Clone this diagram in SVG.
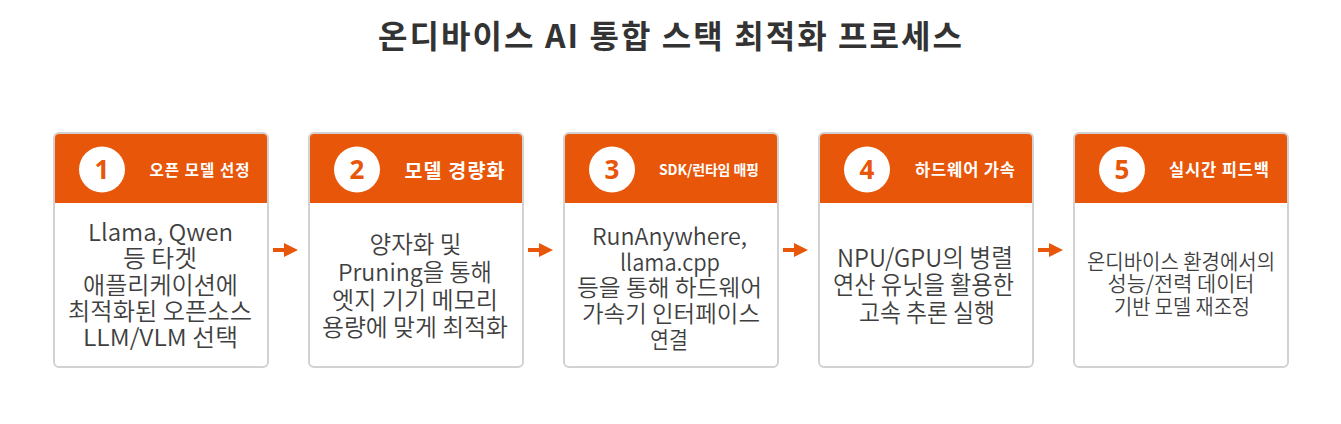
<svg xmlns="http://www.w3.org/2000/svg" width="1341" height="424" viewBox="0 0 1341 424">
<style>
.card{fill:#fff;stroke:#d2d2d2;stroke-width:2}
.hdr{fill:#E8560A}
.num{fill:#fff}
.numt{font-family:"Open Sans","Noto Sans CJK KR",sans-serif;font-weight:700;font-size:26px;fill:#E8560A;text-anchor:middle;dominant-baseline:central}
.ht{font-family:"Noto Sans CJK KR",sans-serif;font-weight:700;fill:#fff;text-anchor:middle;dominant-baseline:central}
.bt{font-family:"Noto Sans CJK KR",sans-serif;font-weight:350;fill:#3f3f3f;text-anchor:middle;dominant-baseline:central}
.c1{font-size:23.5px}.c2{font-size:23.5px}.c3{font-size:23px}.c4{font-size:24.5px}.c5{font-size:21px}
.title{font-family:"Noto Sans CJK KR",sans-serif;font-weight:700;font-size:32px;fill:#333;text-anchor:middle;dominant-baseline:central}
.arr{fill:#E8560A}
</style>
<defs>
<path id="arrow" d="M0,-2 L11,-2 L11,-7 L25,0 L11,7 L11,2 L0,2 Z"/>
</defs>
<rect width="1341" height="424" fill="#fff"/>
<text class="title" x="670" y="34" textLength="584">온디바이스 AI 통합 스택 최적화 프로세스</text>

<g id="node1">
<rect class="card" x="54" y="133" width="214" height="234" rx="5"/>
<path class="hdr" d="M55,203 V138 Q55,134 59,134 H263 Q267,134 267,138 V203 Z"/>
<circle class="num" cx="102" cy="169.5" r="23"/>
<text class="numt" x="102" y="169">1</text>
<text class="ht" x="199.5" y="169" font-size="15.5" textLength="100">오픈 모델 선정</text>
<text class="bt c1" x="160.5" y="231" textLength="145" lengthAdjust="spacingAndGlyphs">Llama, Qwen</text>
<text class="bt c1" x="160" y="257" textLength="74" lengthAdjust="spacingAndGlyphs">등 타겟</text>
<text class="bt c1" x="160.5" y="283.5" textLength="155" lengthAdjust="spacingAndGlyphs">애플리케이션에</text>
<text class="bt c1" x="160" y="310" textLength="184" lengthAdjust="spacingAndGlyphs">최적화된 오픈소스</text>
<text class="bt c1" x="160.5" y="336" textLength="155" lengthAdjust="spacingAndGlyphs">LLM/VLM 선택</text>
</g>

<g id="node2">
<rect class="card" x="309" y="133" width="214" height="234" rx="5"/>
<path class="hdr" d="M310,203 V138 Q310,134 314,134 H518 Q522,134 522,138 V203 Z"/>
<circle class="num" cx="357" cy="169.5" r="23"/>
<text class="numt" x="357" y="169">2</text>
<text class="ht" x="454.5" y="169" font-size="19.5" textLength="100">모델 경량화</text>
<text class="bt c2" x="415.5" y="243" textLength="92" lengthAdjust="spacingAndGlyphs">양자화 및</text>
<text class="bt c2" x="415" y="270.7" textLength="154" lengthAdjust="spacingAndGlyphs">Pruning을 통해</text>
<text class="bt c2" x="415" y="298.5" textLength="166" lengthAdjust="spacingAndGlyphs">엣지 기기 메모리</text>
<text class="bt c2" x="415" y="326" textLength="186" lengthAdjust="spacingAndGlyphs">용량에 맞게 최적화</text>
</g>

<g id="node3">
<rect class="card" x="564" y="133" width="214" height="234" rx="5"/>
<path class="hdr" d="M565,203 V138 Q565,134 569,134 H773 Q777,134 777,138 V203 Z"/>
<circle class="num" cx="612" cy="169.5" r="23"/>
<text class="numt" x="612" y="169">3</text>
<text class="ht" x="709" y="169" font-size="14" textLength="100">SDK/런타임 매핑</text>
<text class="bt c3" x="669.5" y="234.7" textLength="155" lengthAdjust="spacingAndGlyphs">RunAnywhere,</text>
<text class="bt c3" x="670" y="260.5" textLength="100" lengthAdjust="spacingAndGlyphs">llama.cpp</text>
<text class="bt c3" x="669.5" y="286.3" textLength="185" lengthAdjust="spacingAndGlyphs">등을 통해 하드웨어</text>
<text class="bt c3" x="671" y="312" textLength="178" lengthAdjust="spacingAndGlyphs">가속기 인터페이스</text>
<text class="bt c3" x="669" y="338" textLength="38" lengthAdjust="spacingAndGlyphs">연결</text>
</g>

<g id="node4">
<rect class="card" x="819" y="133" width="214" height="234" rx="5"/>
<path class="hdr" d="M820,203 V138 Q820,134 824,134 H1028 Q1032,134 1032,138 V203 Z"/>
<circle class="num" cx="867" cy="169.5" r="23"/>
<text class="numt" x="867" y="169">4</text>
<text class="ht" x="965" y="169" font-size="16.5" textLength="100">하드웨어 가속</text>
<text class="bt c4" x="925" y="256" textLength="176" lengthAdjust="spacingAndGlyphs">NPU/GPU의 병렬</text>
<text class="bt c4" x="923.5" y="283.5" textLength="181" lengthAdjust="spacingAndGlyphs">연산 유닛을 활용한</text>
<text class="bt c4" x="927" y="311" textLength="136" lengthAdjust="spacingAndGlyphs">고속 추론 실행</text>
</g>

<g id="node5">
<rect class="card" x="1074" y="133" width="214" height="234" rx="5"/>
<path class="hdr" d="M1075,203 V138 Q1075,134 1079,134 H1283 Q1287,134 1287,138 V203 Z"/>
<circle class="num" cx="1122" cy="169.5" r="23"/>
<text class="numt" x="1122" y="169">5</text>
<text class="ht" x="1219" y="169" font-size="16.5" textLength="100">실시간 피드백</text>
<text class="bt c5" x="1181" y="259.7" textLength="188" lengthAdjust="spacingAndGlyphs">온디바이스 환경에서의</text>
<text class="bt c5" x="1181" y="282" textLength="147" lengthAdjust="spacingAndGlyphs">성능/전력 데이터</text>
<text class="bt c5" x="1182" y="304.7" textLength="136" lengthAdjust="spacingAndGlyphs">기반 모델 재조정</text>
</g>

<g id="connectors">
<use href="#arrow" class="arr" x="273" y="250"/>
<use href="#arrow" class="arr" x="528" y="250"/>
<use href="#arrow" class="arr" x="783" y="250"/>
<use href="#arrow" class="arr" x="1038" y="250"/>
</g>
</svg>
